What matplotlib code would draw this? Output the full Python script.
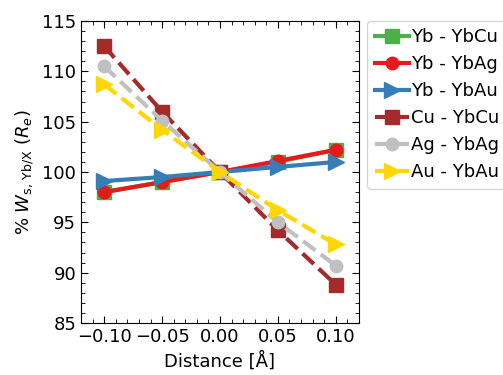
import matplotlib
matplotlib.use("Agg")
import matplotlib.pyplot as plt
from matplotlib.ticker import MultipleLocator

distance = [-0.10, -0.05, 0.00, 0.05, 0.10]
yb_ybcu = [98.0, 99.0, 100.0, 101.0, 102.2]
yb_ybag = [98.0, 99.0, 100.0, 101.1, 102.2]
yb_ybau = [99.1, 99.5, 100.0, 100.5, 101.0]
cu_ybcu = [112.5, 106.0, 100.0, 94.2, 88.8]
ag_ybag = [110.5, 105.1, 100.0, 95.0, 90.7]
au_ybau = [108.7, 104.2, 100.0, 96.2, 92.8]
labels = ["Yb - YbCu", "Yb - YbAg", "Yb - YbAu", "Cu - YbCu", "Ag - YbAg", "Au - YbAu"]

plt.rcParams['font.size'] = 13
fig = plt.figure(figsize=(5.03, 3.75), dpi=100)
ax = fig.add_axes([81/503, 1-323/375, 278/503, 302/375])

series = [yb_ybcu, yb_ybag, yb_ybau, cu_ybcu, ag_ybag, au_ybau]
styles = [
    dict(color='#4daf4a', marker='s', ls='-', ms=10),
    dict(color='#e41a1c', marker='o', ls='-', ms=9),
    dict(color='#377eb8', marker='>', ls='-', ms=11),
    dict(color='#a52a2a', marker='s', ls='--', ms=10),
    dict(color='#c0c0c0', marker='o', ls='--', ms=9),
    dict(color='#ffd700', marker='>', ls='--', ms=11),
]
for s, lab, st in zip(series, labels, styles):
    ax.plot(distance, s, label=lab, lw=3, **st)

ax.set_xlim(-0.12, 0.12)
ax.set_ylim(85, 115)
ax.xaxis.set_major_locator(MultipleLocator(0.05))
ax.xaxis.set_minor_locator(MultipleLocator(0.01))
ax.yaxis.set_major_locator(MultipleLocator(5))
ax.yaxis.set_minor_locator(MultipleLocator(1))
ax.tick_params(which='both', direction='in', top=True, right=True)
ax.tick_params(which='major', length=5)
ax.tick_params(which='minor', length=3)
ax.set_xlabel('Distance [Å]')
ax.set_ylabel(r'% $W_{\rm s,\,Yb/X}$ ($R_e$)')
ax.legend(loc='upper left', bbox_to_anchor=(1.03, 1.0), handlelength=1.9,
          handletextpad=0.1, borderaxespad=0, fontsize=13)
fig.savefig('out.png', dpi=100)
